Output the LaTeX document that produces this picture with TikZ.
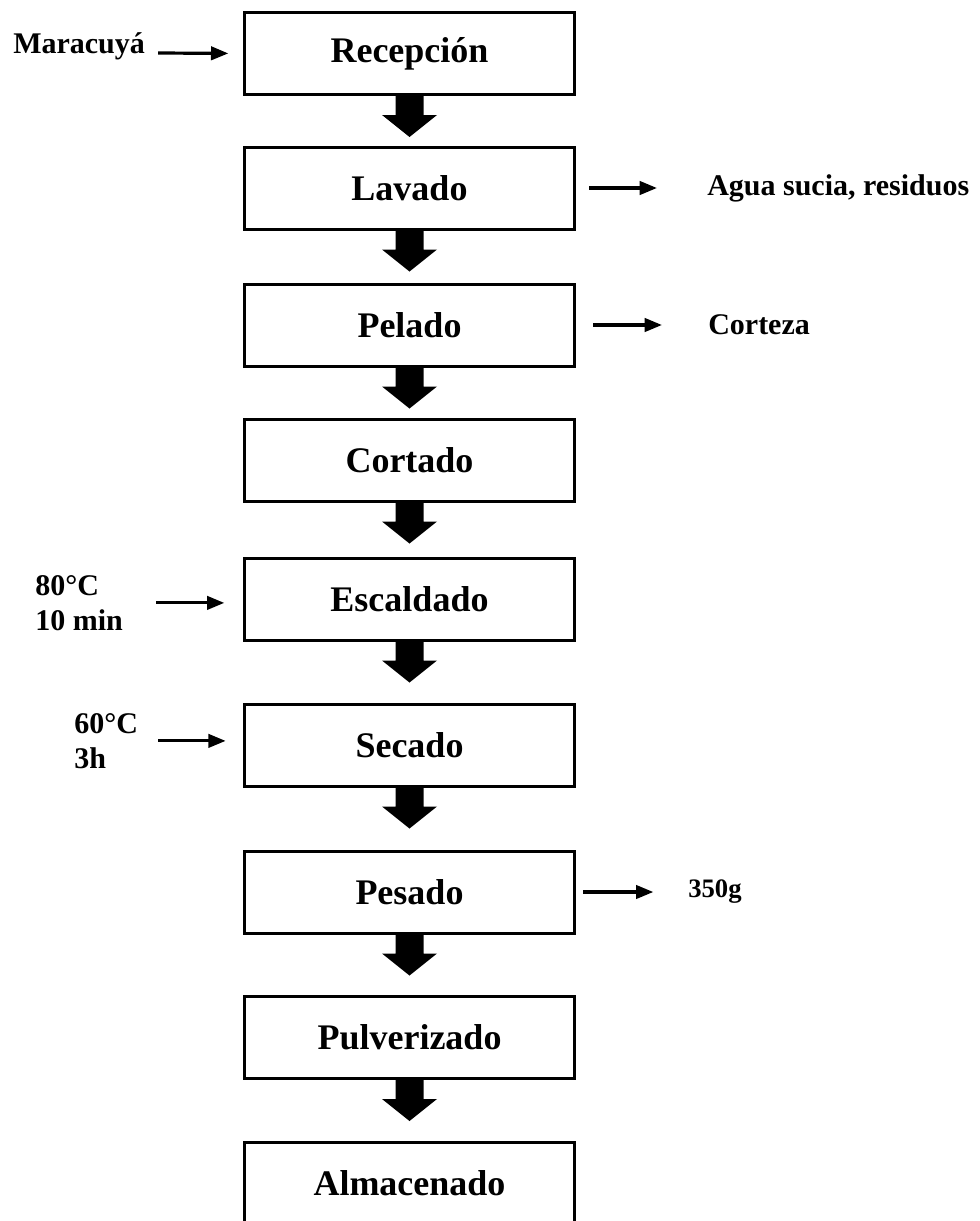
\documentclass[tikz,border=0pt]{standalone}
\usepackage{fontspec}
\setmainfont{Liberation Serif}
\usetikzlibrary{arrows.meta}
\tikzset{
  paso/.style={draw, line width=2.25pt, minimum width=247.5pt, minimum height=61.5pt,
    font=\fontsize{27}{30}\selectfont\bfseries},
  lado/.style={inner sep=0pt, font=\fontsize{22.5}{26.25}\selectfont\bfseries},
  flechita/.style={line width=2.4pt, -{Triangle[length=13pt, width=10pt]}}
}
\begin{document}
\begin{tikzpicture}[x=.75pt, y=-.75pt]
    \useasboundingbox (0,0) rectangle (980,1221);
    % process boxes
    \node[paso] (rec) at (409.5,53.5) {Recepción};
    \node[paso] (lav) at (409.5,188) {Lavado};
    \node[paso] (pel) at (409.5,325) {Pelado};
    \node[paso] (cor) at (409.5,460) {Cortado};
    \node[paso] (esc) at (409.5,599) {Escaldado};
    \node[paso] (sec) at (409.5,745) {Secado};
    \node[paso] (pes) at (409.5,892) {Pesado};
    \node[paso] (pul) at (409.5,1037.5) {Pulverizado};
    \node[paso] (alm) at (409.5,1183.5) {Almacenado};
    % block arrows
    \foreach \a in {rec,lav,pel,cor,esc,sec,pes,pul}
    \fill (\a.south) ++(-14,0) -- ++(0,19) -- ++(-13.5,0) -- ++(27.5,22)
      -- ++(27.5,-22) -- ++(-13.5,0) -- ++(0,-19) -- cycle;
    % inputs
    \node[lado, anchor=base west] (mara) at (13,53) {Maracuyá};
    \draw[flechita, shorten >=11pt] (mara.base east) ++(13,0) -- (rec.west);
    \node[lado, align=left, anchor=north west] (t80) at (35,575) {80°C\\10 min};
    \draw[flechita, shorten >=14pt] (t80.east) ++(33,0) -- (esc.west |- t80.east);
    \node[lado, align=left, anchor=north west] (t60) at (74,713) {60°C\\3h};
    \draw[flechita, shorten >=13pt] (t60.east) ++(20,0) -- (sec.west |- t60.east);
    % outputs
    \node[lado, anchor=west] (agua) at (707,188) {Agua sucia, residuos};
    \draw[flechita, shorten <=10pt, shorten >=37.5pt] (lav.east) -- (agua.west);
    \node[lado, anchor=west] (cort) at (708,325) {Corteza};
    \draw[flechita, shorten <=13pt, shorten >=34.5pt] (pel.east) -- (cort.west);
    \node[lado, anchor=west, font=\fontsize{20}{24}\selectfont\bfseries] (peso) at (688,892) {350g};
    \draw[flechita, shorten <=5.6pt, shorten >=26pt] (pes.east) -- (peso.west);
  \end{tikzpicture}
\end{document}
